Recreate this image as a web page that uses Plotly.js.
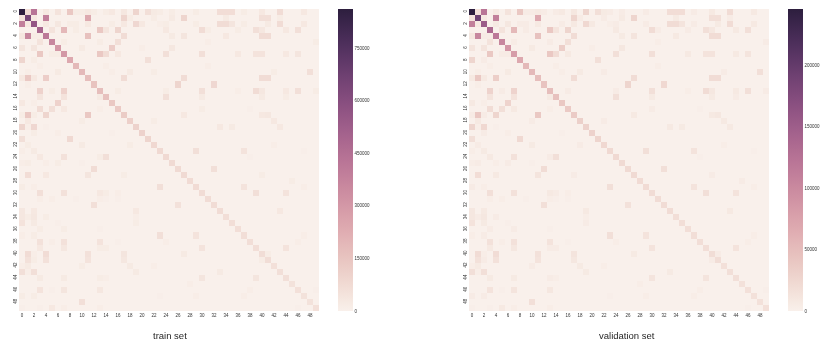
<!DOCTYPE html>
<html>
<head>
<meta charset="utf-8">
<script src="https://cdn.plot.ly/plotly-3.0.1.min.js"></script>
<style>
  html, body { margin: 0; padding: 0; background: #fff; }
  #chart { width: 831px; height: 347px; filter: blur(0.35px); }
</style>
</head>
<body>
<div id="chart"></div>
<script>
const setNames = ["train set", "validation set"];
const trainMax = 861000;
const validationMax = 245500;
const trainBarTicks = [0, 150000, 300000, 450000, 600000, 750000];
const validationBarTicks = [0, 50000, 100000, 150000, 200000];
const axisTicks = [0, 2, 4, 6, 8, 10, 12, 14, 16, 18, 20, 22, 24, 26, 28, 30, 32, 34, 36, 38, 40, 42, 44, 46, 48];

const trainDiagonal = [861000, 645000, 559000, 490000, 413000, 361000, 301000, 301000, 241000, 189000,
  189000, 172000, 155000, 172000, 160000, 138000, 130000, 125000, 112000, 105000,
  105000, 95000, 85000, 80000, 80000, 78000, 78000, 78000, 75000, 75000,
  72000, 72000, 72000, 70000, 65000, 65000, 65000, 65000, 65000, 65000,
  68000, 68000, 58000, 62000, 62000, 52000, 58000, 52000, 52000, 58000];
const validationDiagonal = [245500, 191000, 152000, 135000, 118000, 103000, 86000, 81000, 69000, 54000,
  54000, 49000, 44000, 49000, 46000, 39000, 37000, 36000, 32000, 30000,
  30000, 27000, 24000, 23000, 23000, 22000, 22000, 22000, 21000, 21000,
  20500, 20500, 20500, 20000, 18500, 18500, 18500, 18500, 18500, 18500,
  19500, 19500, 16500, 17500, 17500, 15000, 16500, 15000, 15000, 16500];

// off diagonal cells: row, col, train count, validation count
const offDiagonal = [
  [0,1,72000,16000],[0,2,430000,122000],[0,4,29000,8000],[0,6,47000,13000],[0,8,138000,39000],[0,9,17000,5000],[0,10,17000,5000],[0,11,29000,8000],[0,12,17000,5000],[0,14,17000,5000],[0,15,29000,8000],[0,17,35000,10000],[0,19,95000,27000],[0,21,60000,17000],[0,22,23000,6500],[0,23,17000,5000],[0,25,17000,5000],[0,29,17000,5000],[0,33,66000,19000],[0,34,66000,19000],[0,35,66000,19000],[0,37,17000,5000],[0,40,29000,8000],[0,43,72000,20000],[0,47,29000,8000],
  [1,0,47000,13000],[1,2,29000,8000],[1,4,387000,110000],[1,11,240000,68000],[1,17,95000,27000],[1,18,17000,5000],[1,22,17000,5000],[1,25,23000,6500],[1,27,95000,27000],[1,34,23000,6500],[1,40,60000,17000],[1,41,60000,17000],[1,43,17000,5000],
  [2,0,387000,110000],[2,1,29000,8000],[2,4,29000,8000],[2,6,35000,10000],[2,8,17000,5000],[2,9,17000,5000],[2,11,29000,8000],[2,15,17000,5000],[2,17,29000,8000],[2,19,86000,24000],[2,20,29000,8000],[2,23,12000,3400],[2,24,17000,5000],[2,29,17000,5000],[2,33,72000,20000],[2,34,72000,20000],[2,35,41000,12000],[2,37,17000,5000],[2,41,23000,6500],[2,43,72000,20000],[2,47,29000,8000],
  [3,5,47000,13000],[3,7,190000,54000],[3,9,17000,5000],[3,13,138000,39000],[3,14,41000,12000],[3,16,95000,27000],[3,24,29000,8000],[3,30,72000,20000],[3,31,17000,5000],[3,36,17000,5000],[3,39,60000,17000],[3,40,35000,10000],[3,44,29000,8000],[3,46,60000,17000],
  [4,0,35000,10000],[4,1,361000,103000],[4,2,17000,5000],[4,3,17000,5000],[4,11,160000,45000],[4,17,72000,20000],[4,25,23000,6500],[4,27,41000,12000],[4,34,29000,8000],[4,40,72000,20000],[4,41,72000,20000],
  [5,3,47000,13000],[5,7,17000,5000],[5,13,17000,5000],[5,16,60000,17000],[5,31,12000,3400],[5,49,17000,5000],
  [6,0,41000,12000],[6,2,41000,12000],[6,10,23000,6500],[6,15,120000,34000],[6,20,12000,3400],[6,25,35000,10000],
  [7,3,138000,39000],[7,5,17000,5000],[7,6,17000,5000],[7,13,138000,39000],[7,14,72000,20000],[7,16,29000,8000],[7,24,60000,17000],[7,30,60000,17000],[7,36,29000,8000],[7,39,47000,13000],[7,40,47000,13000],[7,44,29000,8000],[7,46,41000,12000],
  [8,0,95000,27000],[8,2,17000,5000],[8,21,60000,17000],
  [9,3,12000,3400],[9,14,12000,3400],[9,31,12000,3400],
  [10,1,12000,3400],[10,6,23000,6500],[10,15,12000,3400],[10,18,23000,6500],[10,22,17000,5000],[10,42,17000,5000],[10,48,60000,17000],
  [11,0,29000,8000],[11,1,138000,39000],[11,2,29000,8000],[11,4,120000,34000],[11,17,72000,20000],[11,27,72000,20000],[11,40,72000,20000],[11,41,72000,20000],
  [12,1,12000,3400],[12,26,95000,27000],[12,32,86000,24000],
  [13,3,103000,29000],[13,5,17000,5000],[13,7,103000,29000],[13,16,17000,5000],[13,24,17000,5000],[13,30,60000,17000],[13,36,12000,3400],[13,39,72000,20000],[13,40,35000,10000],[13,44,29000,8000],[13,46,60000,17000],[13,49,17000,5000],
  [14,3,41000,12000],[14,7,47000,13000],[14,13,23000,6500],[14,24,60000,17000],[14,30,23000,6500],[14,40,23000,6500],[14,44,17000,5000],
  [15,0,29000,8000],[15,2,12000,3400],[15,6,103000,29000],
  [16,3,72000,20000],[16,5,60000,17000],[16,7,29000,8000],[16,13,12000,3400],[16,30,17000,5000],[16,38,6000,1700],
  [17,0,17000,5000],[17,1,138000,39000],[17,2,17000,5000],[17,4,95000,27000],[17,11,138000,39000],[17,27,29000,8000],[17,40,29000,8000],[17,41,35000,10000],
  [18,1,29000,8000],[18,10,17000,5000],[18,22,17000,5000],[18,42,29000,8000],
  [19,0,95000,27000],[19,1,12000,3400],[19,2,86000,24000],[19,4,6000,1700],[19,33,29000,8000],[19,35,23000,6500],[19,43,29000,8000],
  [20,2,17000,5000],[20,6,12000,3400],[20,15,6000,1700],
  [21,0,60000,17000],[21,8,80000,23000],
  [22,1,17000,5000],[22,10,23000,6500],[22,18,17000,5000],[22,42,12000,3400],
  [23,0,12000,3400],[23,2,23000,6500],[23,29,60000,17000],[23,37,47000,13000],[23,47,6000,1700],
  [24,3,29000,8000],[24,7,53000,15000],[24,13,17000,5000],[24,14,60000,17000],[24,38,6000,1700],
  [25,0,12000,3400],[25,1,17000,5000],[25,4,12000,3400],[25,6,17000,5000],[25,10,6000,1700],
  [26,12,72000,20000],[26,32,60000,17000],
  [27,1,66000,19000],[27,4,29000,8000],[27,11,41000,12000],[27,17,17000,5000],[27,40,17000,5000],
  [28,45,17000,5000],
  [29,0,17000,5000],[29,2,12000,3400],[29,23,60000,17000],[29,37,47000,13000],[29,47,12000,3400],
  [30,3,60000,17000],[30,7,53000,15000],[30,13,29000,8000],[30,14,17000,5000],[30,16,12000,3400],[30,39,60000,17000],[30,44,47000,13000],
  [31,3,12000,3400],[31,5,12000,3400],[31,9,6000,1700],[31,13,12000,3400],[31,14,6000,1700],[31,16,6000,1700],
  [32,12,60000,17000],[32,26,53000,15000],
  [33,0,35000,10000],[33,2,29000,8000],[33,19,29000,8000],[33,43,29000,8000],
  [34,0,35000,10000],[34,1,17000,5000],[34,2,35000,10000],[34,4,17000,5000],[34,19,12000,3400],
  [35,0,47000,13000],[35,2,23000,6500],[35,6,6000,1700],[35,19,17000,5000],
  [36,3,17000,5000],[36,7,17000,5000],[36,13,6000,1700],
  [37,0,12000,3400],[37,2,17000,5000],[37,23,60000,17000],[37,29,47000,13000],[37,47,12000,3400],
  [38,3,53000,15000],[38,5,12000,3400],[38,7,53000,15000],[38,13,47000,13000],[38,16,6000,1700],[38,24,12000,3400],[38,46,12000,3400],
  [39,3,29000,8000],[39,7,35000,10000],[39,13,17000,5000],[39,14,17000,5000],[39,30,47000,13000],[39,44,47000,13000],
  [40,1,72000,20000],[40,2,12000,3400],[40,4,72000,20000],[40,11,53000,15000],[40,17,41000,12000],[40,27,23000,6500],[40,41,17000,5000],
  [41,1,53000,15000],[41,2,17000,5000],[41,4,53000,15000],[41,11,47000,13000],[41,17,35000,10000],[41,40,17000,5000],
  [42,0,12000,3400],[42,1,23000,6500],[42,10,17000,5000],[42,18,23000,6500],[42,22,12000,3400],
  [43,0,60000,17000],[43,1,12000,3400],[43,2,60000,17000],[43,19,23000,6500],[43,33,23000,6500],
  [44,3,23000,6500],[44,7,23000,6500],[44,13,17000,5000],[44,14,12000,3400],[44,30,41000,12000],[44,39,41000,12000],
  [45,28,12000,3400],
  [46,3,47000,13000],[46,5,6000,1700],[46,7,41000,12000],[46,13,35000,10000],[46,38,12000,3400],[46,49,6000,1700],
  [47,0,17000,5000],[47,2,17000,5000],[47,23,6000,1700],[47,29,12000,3400],[47,37,12000,3400],
  [48,10,60000,17000],
  [49,0,6000,1700],[49,3,6000,1700],[49,5,29000,8000],[49,7,12000,3400],[49,13,12000,3400],[49,46,6000,1700]
];

const n = trainDiagonal.length;
const labels = Array.from({ length: n }, (_, i) => i);

function buildMatrix(diagonal, valueIndex) {
  const z = labels.map(() => Array(n).fill(0));
  diagonal.forEach((value, i) => {
    z[i][i] = value;
  });
  offDiagonal.forEach((cell) => {
    z[cell[0]][cell[1]] = cell[valueIndex];
  });
  return z;
}

// same ramp as seaborn's cubehelix_palette(light=.95, as_cmap=True)
function cubehelixScale() {
  const scale = [];
  for (let i = 0; i <= 32; i++) {
    const t = i / 32;
    const x = 0.95 - 0.8 * t;
    const a = (0.8 * x * (1 - x)) / 2;
    const phi = 2 * Math.PI * 0.4 * x;
    const r = x + a * (-0.14861 * Math.cos(phi) + 1.78277 * Math.sin(phi));
    const g = x + a * (-0.29227 * Math.cos(phi) - 0.90649 * Math.sin(phi));
    const b = x + a * (1.97294 * Math.cos(phi));
    scale.push([t, `rgb(${Math.round(r * 255)},${Math.round(g * 255)},${Math.round(b * 255)})`]);
  }
  return scale;
}

const W = 831;
const H = 347;
const plotTop = 9;
const plotBottom = 311;
const tickFont = { family: "Liberation Sans, Arial, sans-serif", size: 4.5, color: "#333" };

function heatmapTrace(z, zmax, barX, barTicks, xName, yName) {
  return {
    type: "heatmap",
    z: z,
    x: labels,
    y: labels,
    xaxis: xName,
    yaxis: yName,
    zmin: 0,
    zmax: zmax,
    colorscale: cubehelixScale(),
    colorbar: {
      x: barX / W,
      xanchor: "left",
      xpad: 0,
      ypad: 0,
      y: 1 - plotBottom / H,
      yanchor: "bottom",
      len: plotBottom - plotTop,
      lenmode: "pixels",
      thickness: 15,
      thicknessmode: "pixels",
      outlinewidth: 0,
      ticks: "",
      ticklen: 0,
      tickvals: barTicks,
      ticktext: barTicks.map(String),
      tickfont: tickFont,
    },
  };
}

function xAxis(left, right) {
  return {
    domain: [left / W, right / W],
    range: [-0.5, n - 0.5],
    tickvals: axisTicks,
    ticks: "",
    tickfont: tickFont,
    tickangle: 0,
    showgrid: false,
    zeroline: false,
    showline: false,
  };
}

function yAxis(anchor) {
  return {
    domain: [1 - plotBottom / H, 1 - plotTop / H],
    range: [n - 0.5, -0.5],
    anchor: anchor,
    tickvals: axisTicks,
    ticks: "",
    tickfont: tickFont,
    tickangle: -90,
    showgrid: false,
    zeroline: false,
    showline: false,
  };
}

const traces = [
  heatmapTrace(buildMatrix(trainDiagonal, 2), trainMax, 338, trainBarTicks, "x", "y"),
  heatmapTrace(buildMatrix(validationDiagonal, 3), validationMax, 788, validationBarTicks, "x2", "y2"),
];

const layout = {
  width: W,
  height: H,
  margin: { l: 0, r: 0, t: 0, b: 0 },
  paper_bgcolor: "#fff",
  plot_bgcolor: "#fff",
  xaxis: xAxis(19, 319),
  yaxis: yAxis("x"),
  xaxis2: Object.assign(xAxis(469, 769), { anchor: "y2" }),
  yaxis2: yAxis("x2"),
  annotations: [
    { text: setNames[0], x: 170 / W, y: 1 - 335 / H },
    { text: setNames[1], x: 627 / W, y: 1 - 335 / H },
  ].map((a) =>
    Object.assign(a, {
      xref: "paper",
      yref: "paper",
      xanchor: "center",
      yanchor: "middle",
      showarrow: false,
      font: { family: "Liberation Sans, Arial, sans-serif", size: 9.5, color: "#262626" },
    })
  ),
};

Plotly.newPlot("chart", traces, layout, { displayModeBar: false, staticPlot: true });
</script>
</body>
</html>
